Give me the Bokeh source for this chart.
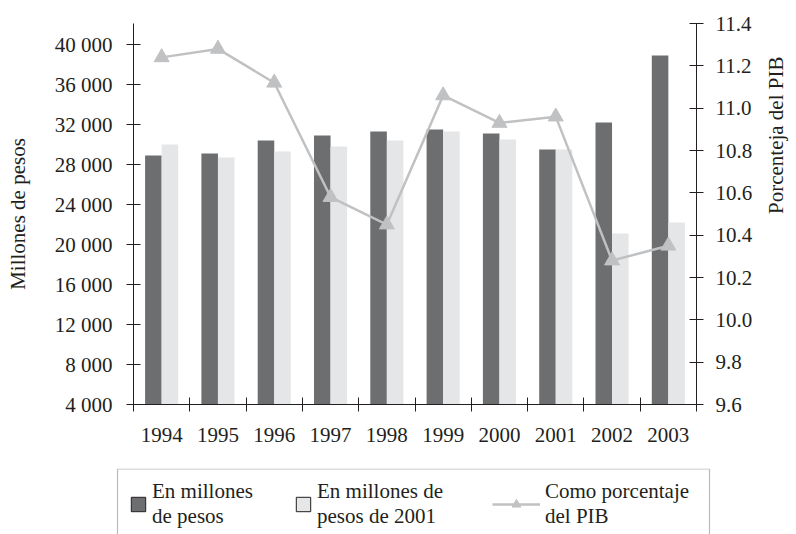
import math
from bokeh.plotting import figure
from bokeh.models import (Range1d, LinearAxis, FixedTicker, Legend, LegendItem,
                          NumeralTickFormatter, BoxAnnotation)
from bokeh.embed import file_html
from bokeh.resources import INLINE

# ---- data ----
years = ["1994", "1995", "1996", "1997", "1998", "1999", "2000", "2001", "2002", "2003"]
millones_pesos = [28900, 29100, 30400, 30900, 31300, 31500, 31100, 29500, 32200, 38900]
millones_pesos_2001 = [30000, 28700, 29300, 29800, 30400, 31300, 30500, 29500, 21100, 22200]
porcentaje_pib = [11.24, 11.28, 11.12, 10.58, 10.45, 11.06, 10.93, 10.96, 10.28, 10.35]
left_ticks = [4000, 8000, 12000, 16000, 20000, 24000, 28000, 32000, 36000, 40000]
right_ticks = [9.6, 9.8, 10.0, 10.2, 10.4, 10.6, 10.8, 11.0, 11.2, 11.4]

# ---- style ----
DARK = "#6d6e70"
LIGHT = "#e5e6e8"
LINE = "#c0c1c3"
INK = "#231f20"
FONT = "Liberation Serif"
FS = "21px"

n = len(years)
centers = [i + 0.5 for i in range(n)]
bounds = list(range(n + 1))
dx = 0.147
x_dark = [c - dx for c in centers]
x_light = [c + dx for c in centers]

p = figure(frame_width=563, frame_height=381, output_backend="svg", toolbar_location=None,
           x_range=Range1d(0, n), y_range=Range1d(4000, 42100),
           min_border_left=133, min_border_right=0, min_border_top=23,
           min_border_bottom=64)
p.extra_y_ranges = {"pct": Range1d(9.6, 11.4)}
p.outline_line_color = None
p.xgrid.grid_line_color = None
p.ygrid.grid_line_color = None

p.vbar(x=x_dark, top=millones_pesos, bottom=left_ticks[0], width=0.294,
       fill_color=DARK, line_color=None)
p.vbar(x=x_light, top=millones_pesos_2001, bottom=left_ticks[0], width=0.294,
       fill_color=LIGHT, line_color=None)
p.line(x=centers, y=porcentaje_pib, y_range_name="pct", line_color=LINE, line_width=2.5)
p.scatter(x=centers, y=porcentaje_pib, y_range_name="pct", marker="triangle",
          size=15, fill_color=LINE, line_color=LINE)


def style_axis(ax):
    ax.axis_line_color = INK
    ax.major_tick_line_color = INK
    ax.major_label_text_font = FONT
    ax.major_label_text_font_size = FS
    ax.major_label_text_color = INK
    ax.axis_label_text_font = FONT
    ax.axis_label_text_font_size = FS
    ax.axis_label_text_font_style = "normal"
    ax.axis_label_text_color = INK


# x axis
xa = p.xaxis[0]
style_axis(xa)
xa.ticker = FixedTicker(ticks=centers, minor_ticks=bounds)
xa.major_label_overrides = {c: y for c, y in zip(centers, years)}
xa.major_tick_in = 0
xa.major_tick_out = 0
xa.minor_tick_in = 7
xa.minor_tick_out = 7
xa.minor_tick_line_color = INK
xa.major_label_standoff = 16

# left axis
ya = p.yaxis[0]
style_axis(ya)
ya.ticker = FixedTicker(ticks=left_ticks)
ya.major_label_overrides = {v: f"{v:,}".replace(",", " ") for v in left_ticks}
ya.major_tick_in = 7
ya.major_tick_out = 7
ya.minor_tick_line_color = None
ya.major_label_standoff = 14
ya.axis_label = "Millones de pesos"
ya.axis_label_standoff = 22

# right axis
ra = LinearAxis(y_range_name="pct", ticker=FixedTicker(ticks=right_ticks),
                formatter=NumeralTickFormatter(format="0.0"),
                axis_label="Porcenteja del PIB")
style_axis(ra)
ra.major_tick_in = 7
ra.major_tick_out = 7
ra.minor_tick_line_color = None
ra.major_label_standoff = 12
ra.axis_label_standoff = 21
if hasattr(ra, "axis_label_orientation"):
    ra.axis_label_orientation = math.pi / 2
p.add_layout(ra, "right")

# ---- legend strip (a second root whose frame is the whole canvas) ----
LW, LH = 780, 66
q = figure(width=LW, height=LH, output_backend="svg", toolbar_location=None,
           x_range=Range1d(0, LW), y_range=Range1d(0, LH),
           x_axis_location=None, y_axis_location=None, min_border=0)
q.outline_line_color = None
q.xgrid.grid_line_color = None
q.ygrid.grid_line_color = None

# hidden renderers carrying the series' styles for the legend entries
sw_dark = q.vbar(x=x_dark, top=millones_pesos, width=0.294, fill_color=DARK,
                 line_color=INK, line_width=1, visible=False)
sw_light = q.vbar(x=x_light, top=millones_pesos_2001, width=0.294, fill_color=LIGHT,
                  line_color=INK, line_width=1, visible=False)
lg_line = q.line(x=centers, y=porcentaje_pib, line_color=LINE, line_width=2.5, visible=False)
lg_tri = q.scatter(x=centers, y=porcentaje_pib, marker="triangle", fill_color=LINE,
                   line_color=LINE, visible=False)

common = dict(orientation="horizontal", margin=0, padding=0, label_standoff=5,
              label_text_font=FONT, label_text_font_size=FS, label_text_color=INK,
              label_text_line_height=1.0, border_line_color=None,
              background_fill_alpha=0, inactive_fill_alpha=0)
leg_a = Legend(items=[LegendItem(label="En millones\nde pesos", renderers=[sw_dark])],
               location=(129, 5), glyph_width=18, glyph_height=18, **common)
leg_b = Legend(items=[LegendItem(label="En millones de\npesos de 2001", renderers=[sw_light])],
               location=(294, 5), glyph_width=18, glyph_height=18, **common)
leg_c = Legend(items=[LegendItem(label="Como porcentaje\ndel PIB", renderers=[lg_line, lg_tri])],
               location=(492, 5), glyph_width=48, glyph_height=22, **common)
for lg in (leg_a, leg_b, leg_c):
    q.add_layout(lg)

q.add_layout(BoxAnnotation(left=117, right=709, top=LH - 0.5, bottom=-10,
                           fill_alpha=0, line_color=INK, line_width=1.2))

open("out.html", "w").write(file_html([p, q], INLINE))
